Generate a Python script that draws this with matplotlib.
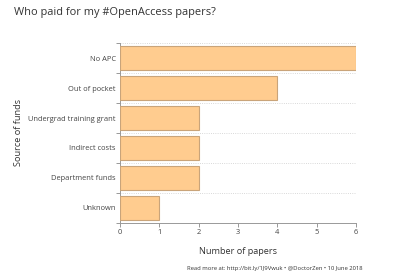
import numpy as np
import matplotlib.pyplot as plt

plt.rcParams['font.family'] = ['Open Sans', 'DejaVu Sans']

# data
sources = ['No APC', 'Out of pocket', 'Undergrad training grant',
           'Indirect costs', 'Department funds', 'Unknown']
papers = [6, 4, 2, 2, 2, 1]

txt = '#333333'
fig = plt.figure(figsize=(4, 2.8), dpi=100)
ax = fig.add_axes([0.30, 0.204, 0.59, 0.642])

y = np.arange(len(sources))
ax.barh(y, papers, height=0.82, color='#FFCC8F', edgecolor='#C9A47A', linewidth=0.8, zorder=3)

ax.set_xlim(0, 6)
ax.set_ylim(len(sources) - 0.5, -0.5)
ax.set_yticks(y)
ax.set_yticklabels(sources)
ax.set_yticks(np.arange(-0.5, len(sources)), minor=True)
ax.tick_params(axis='y', which='major', length=0, labelsize=5.4, colors='#444444', pad=3)
ax.tick_params(axis='y', which='minor', length=3, color='#888888', width=0.6)
ax.tick_params(axis='x', length=3, color='#888888', width=0.6, labelsize=5.4, colors='#444444', pad=1.5)
ax.grid(axis='y', which='minor', linestyle=':', color='#cccccc', linewidth=0.6, zorder=0)

for s in ['top', 'right']:
    ax.spines[s].set_visible(False)
for s in ['left', 'bottom']:
    ax.spines[s].set_color('#999999')
    ax.spines[s].set_linewidth(0.7)

ax.set_xlabel('Number of papers', fontsize=6.6, color=txt)
ax.xaxis.set_label_coords(0.5, -0.135)
ax.set_ylabel('Source of funds', fontsize=6.6, color=txt)
ax.yaxis.set_label_coords(-0.41, 0.5)

fig.text(0.035, 0.955, 'Who paid for my #OpenAccess papers?', fontsize=7.9, color=txt, va='center')
fig.text(0.6875, 0.042, 'Read more at: http://bit.ly/1J9Vwuk \u2022 @DoctorZen \u2022 10 June 2018',
         fontsize=4.2, color=txt, ha='center', va='center')

fig.savefig('out.png', dpi=100)
